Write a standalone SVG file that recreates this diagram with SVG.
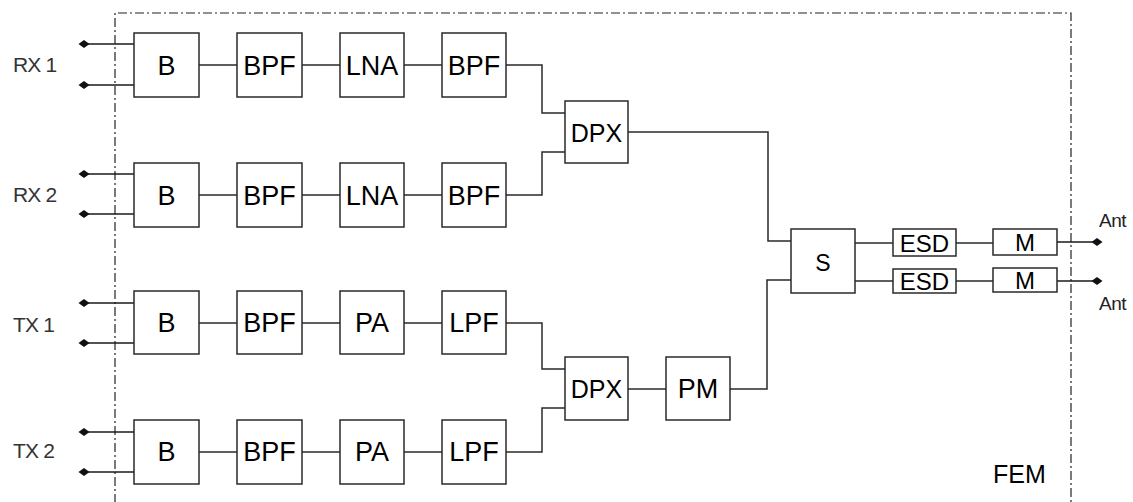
<svg xmlns="http://www.w3.org/2000/svg" width="1133" height="502" viewBox="0 0 1133 502">
  <defs>
    <!-- filled diamond used for the port terminals -->
    <marker id="port" markerUnits="userSpaceOnUse" markerWidth="14" markerHeight="12" refX="7" refY="6" orient="auto">
      <path d="M1.5,6 L7,2 L12.5,6 L7,10 Z" fill="#111"/>
    </marker>
  </defs>
  <style>
    .box { fill: #fff; stroke: #2a2a2a; stroke-width: 1.5; }
    .wire { fill: none; stroke: #2a2a2a; stroke-width: 1.5; }
    .port { fill: none; stroke: #1a1a1a; stroke-width: 1.7; marker-start: url(#port); }
    .border { fill: none; stroke: #222; stroke-width: 1.2; stroke-dasharray: 9 3 2 3; }
    .lbl { font-family: "Liberation Sans", Arial, sans-serif; font-size: 27px; fill: #000; text-anchor: middle; dominant-baseline: central; }
    .sm { font-size: 24px; }
    .pin { font-family: "Liberation Sans", Arial, sans-serif; font-size: 21px; fill: #333; letter-spacing: -0.8px; }
    .ant { font-family: "Liberation Sans", Arial, sans-serif; font-size: 19px; fill: #222; letter-spacing: -0.5px; }
    .fem { font-family: "Liberation Sans", Arial, sans-serif; font-size: 25px; fill: #000; }
  </style>
  <rect width="1133" height="502" fill="#fff"/>

  <!-- module boundary (open at the bottom) -->
  <path class="border" d="M115,520 L115,13 L1071,13 L1071,520"/>
  <text class="fem" x="993" y="483">FEM</text>

  <!-- external port labels -->
  <g id="labels">
    <text class="pin" x="13" y="72">RX 1</text>
    <text class="pin" x="13" y="202">RX 2</text>
    <text class="pin" x="13" y="332">TX 1</text>
    <text class="pin" x="13" y="458">TX 2</text>
    <text class="ant" x="1099" y="227">Ant</text>
    <text class="ant" x="1099" y="310">Ant</text>
  </g>

  <g id="connectors">
    <!-- balanced port pairs into the baluns -->
    <path class="port" d="M84,44 H134"/>
    <path class="port" d="M84,85 H134"/>
    <path class="port" d="M84,174 H134"/>
    <path class="port" d="M84,214 H134"/>
    <path class="port" d="M84,303 H134"/>
    <path class="port" d="M84,343 H134"/>
    <path class="port" d="M84,432 H134"/>
    <path class="port" d="M84,472 H134"/>
    <!-- antenna ports -->
    <path class="port" d="M1097,242 H1057"/>
    <path class="port" d="M1097,281 H1057"/>

    <!-- chain links -->
    <path class="wire" d="M199,65 H237 M302,65 H340 M404,65 H442"/>
    <path class="wire" d="M199,195 H237 M302,195 H340 M404,195 H442"/>
    <path class="wire" d="M199,323 H237 M302,323 H340 M404,323 H442"/>
    <path class="wire" d="M199,452 H237 M302,452 H340 M404,452 H442"/>

    <!-- filters into the diplexers -->
    <path class="wire" d="M506,65 H542 V113 H565"/>
    <path class="wire" d="M506,195 H542 V152 H565"/>
    <path class="wire" d="M506,323 H542 V369 H565"/>
    <path class="wire" d="M506,452 H542 V408 H565"/>

    <!-- diplexers, power monitor and switch -->
    <path class="wire" d="M628,132 H768 V241 H791"/>
    <path class="wire" d="M628,389 H666"/>
    <path class="wire" d="M730,389 H767 V280 H791"/>

    <!-- switch to ESD and matching -->
    <path class="wire" d="M855,243 H893 M956,243 H993"/>
    <path class="wire" d="M855,281 H893 M956,281 H993"/>
  </g>

  <!-- RX 1 chain -->
  <g id="rx1-b"><rect class="box" x="134" y="33" width="65" height="64"/><text class="lbl" x="166.5" y="66">B</text></g>
  <g id="rx1-bpf1"><rect class="box" x="237" y="33" width="65" height="64"/><text class="lbl" x="269.5" y="66">BPF</text></g>
  <g id="rx1-lna"><rect class="box" x="340" y="33" width="64" height="64"/><text class="lbl" x="372" y="66">LNA</text></g>
  <g id="rx1-bpf2"><rect class="box" x="442" y="33" width="64" height="64"/><text class="lbl" x="474" y="66">BPF</text></g>

  <!-- RX 2 chain -->
  <g id="rx2-b"><rect class="box" x="134" y="163" width="65" height="64"/><text class="lbl" x="166.5" y="196">B</text></g>
  <g id="rx2-bpf1"><rect class="box" x="237" y="163" width="65" height="64"/><text class="lbl" x="269.5" y="196">BPF</text></g>
  <g id="rx2-lna"><rect class="box" x="340" y="163" width="64" height="64"/><text class="lbl" x="372" y="196">LNA</text></g>
  <g id="rx2-bpf2"><rect class="box" x="442" y="163" width="64" height="64"/><text class="lbl" x="474" y="196">BPF</text></g>

  <!-- TX 1 chain -->
  <g id="tx1-b"><rect class="box" x="134" y="291" width="65" height="63"/><text class="lbl" x="166.5" y="323">B</text></g>
  <g id="tx1-bpf"><rect class="box" x="237" y="291" width="65" height="63"/><text class="lbl" x="269.5" y="323">BPF</text></g>
  <g id="tx1-pa"><rect class="box" x="340" y="291" width="64" height="63"/><text class="lbl" x="372" y="323">PA</text></g>
  <g id="tx1-lpf"><rect class="box" x="442" y="291" width="64" height="63"/><text class="lbl" x="474" y="323">LPF</text></g>

  <!-- TX 2 chain -->
  <g id="tx2-b"><rect class="box" x="134" y="420" width="65" height="64"/><text class="lbl" x="166.5" y="452">B</text></g>
  <g id="tx2-bpf"><rect class="box" x="237" y="420" width="65" height="64"/><text class="lbl" x="269.5" y="452">BPF</text></g>
  <g id="tx2-pa"><rect class="box" x="340" y="420" width="64" height="64"/><text class="lbl" x="372" y="452">PA</text></g>
  <g id="tx2-lpf"><rect class="box" x="442" y="420" width="64" height="64"/><text class="lbl" x="474" y="452">LPF</text></g>

  <!-- combining stages -->
  <g id="dpx-rx"><rect class="box" x="565" y="101" width="63" height="62"/><text class="lbl" x="596.5" y="133" style="font-size:25px">DPX</text></g>
  <g id="dpx-tx"><rect class="box" x="565" y="357" width="63" height="63"/><text class="lbl" x="596.5" y="389" style="font-size:25px">DPX</text></g>
  <g id="pm"><rect class="box" x="666" y="357" width="64" height="63"/><text class="lbl" x="698" y="389">PM</text></g>
  <g id="sw"><rect class="box" x="791" y="229" width="64" height="64"/><text class="lbl" x="823" y="263" style="font-size:23px">S</text></g>

  <!-- antenna side -->
  <g id="esd1"><rect class="box" x="893" y="229" width="63" height="27"/><text class="lbl sm" x="924.5" y="243">ESD</text></g>
  <g id="esd2"><rect class="box" x="893" y="269" width="63" height="24"/><text class="lbl sm" x="924.5" y="281">ESD</text></g>
  <g id="m1"><rect class="box" x="993" y="229" width="64" height="26"/><text class="lbl sm" x="1025" y="242">M</text></g>
  <g id="m2"><rect class="box" x="993" y="268" width="64" height="24"/><text class="lbl sm" x="1025" y="280">M</text></g>
</svg>
